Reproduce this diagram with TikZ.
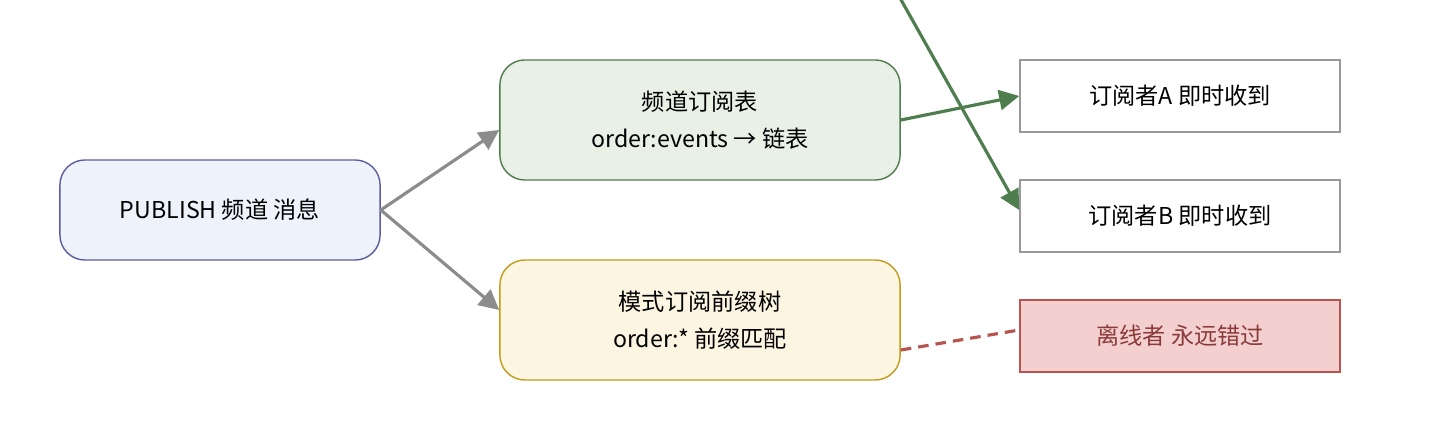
\documentclass[tikz,border=0pt]{standalone}
\usepackage{fontspec}
\setmainfont{Noto Sans CJK SC}
\usetikzlibrary{positioning, arrows.meta}
\definecolor{pubfill}{HTML}{EEF2FB}
\definecolor{pubdraw}{HTML}{5C5CA0}
\definecolor{chfill}{HTML}{E9F1E7}
\definecolor{chdraw}{HTML}{4E7D4E}
\definecolor{patfill}{HTML}{FCF5E2}
\definecolor{patdraw}{HTML}{C39B1A}
\definecolor{offfill}{HTML}{F3CFCF}
\definecolor{offdraw}{HTML}{B85450}
\definecolor{offtext}{HTML}{8B3A3A}
\tikzset{
  box/.style={rectangle, draw, rounded corners=2.5mm, line width=0.4pt, align=center,
    font=\fontsize{6.6}{10.5}\selectfont},
  sub/.style={rectangle, draw=gray!80, line width=0.4pt, minimum width=3.2cm, minimum height=0.72cm,
    font=\fontsize{6.6}{8}\selectfont},
  flow/.style={-{Triangle[length=2mm,width=2mm]}, line width=0.9pt},
}
\begin{document}
\begin{tikzpicture}[x=0.01cm, y=-0.01cm]
\useasboundingbox (0,0) rectangle (1440,440);
% sources
\node[box, fill=pubfill, draw=pubdraw, minimum width=3.2cm, minimum height=1cm] (pub) at (220,210) {PUBLISH 频道 消息};
\node[box, fill=chfill, draw=chdraw, minimum width=4cm, minimum height=1.2cm] (chan) at (700,120) {频道订阅表\\order:events → 链表};
\node[box, fill=patfill, draw=patdraw, minimum width=4cm, minimum height=1.2cm] (pat) at (700,320) {模式订阅前缀树\\order:* 前缀匹配};
% subscribers
\node[sub] (subA) at (1180,96) {订阅者A 即时收到};
\node[sub] (subB) at (1180,216) {订阅者B 即时收到};
\node[sub, fill=offfill, draw=offdraw, text=offtext] (off) at (1180,336) {离线者 永远错过};
\coordinate (top) at (900,-2);
% connectors
\draw[flow, gray!90] (pub.east) -- (chan.west |- 0,130);
\draw[flow, gray!90] (pub.east) -- (pat.west |- 0,310);
\draw[flow, chdraw] (chan.east) -- (subA.west);
\draw[flow, chdraw] (top) -- (subB.west |- 0,210);
\draw[offdraw, line width=0.9pt, dashed, dash pattern=on 3pt off 2pt] (pat.east |- 0,350) -- (off.west |- 0,330);
\end{tikzpicture}
\end{document}
